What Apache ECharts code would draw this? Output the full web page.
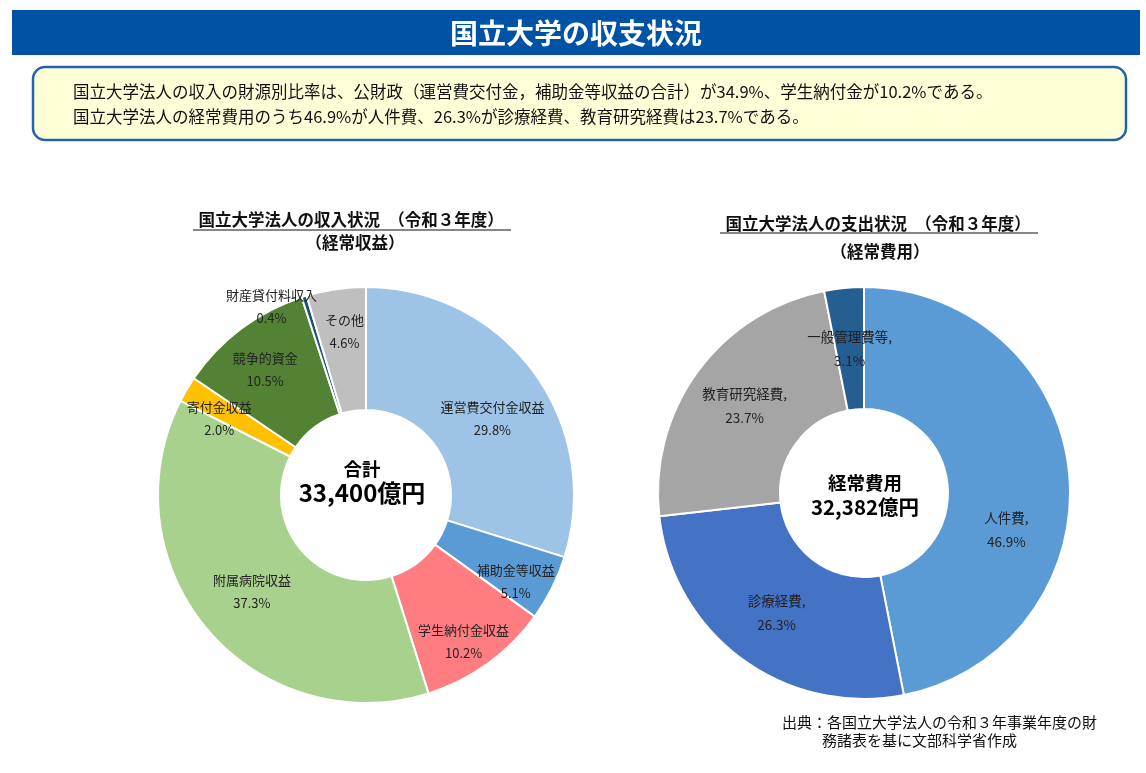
<!DOCTYPE html>
<html>
<head>
<meta charset="utf-8">
<script src="https://cdn.jsdelivr.net/npm/echarts@6/dist/echarts.min.js"></script>
<style>
  html, body { margin: 0; padding: 0; background: #fff; }
  #main { width: 1146px; height: 773px; }
</style>
</head>
<body>
<div id="main"></div>
<script>
// 収入（経常収益）
var incomeNames = ['運営費交付金収益', '補助金等収益', '学生納付金収益', '附属病院収益', '寄付金収益', '競争的資金', '財産貸付料収入', 'その他']
var incomeValues = [29.8, 5.1, 10.2, 37.3, 2.0, 10.5, 0.4, 4.6]
var incomeTotal = '33,400億円'

// 支出（経常費用）
var expenseNames = ['人件費', '診療経費', '教育研究経費', '一般管理費等']
var expenseValues = [46.9, 26.3, 23.7, 3.1]
var expenseTotal = '32,382億円'

var incomeColors = ['#9DC3E6', '#5B9BD5', '#FF7C80', '#A9D18E', '#FFC000', '#548235', '#1F4E79', '#BFBFBF']
var expenseColors = ['#5B9BD5', '#4472C4', '#A5A5A5', '#255E91']

// ラベル位置の微調整
var incomeLabelOffset = {
  '運営費交付金収益': [6, 12],
  '補助金等収益': [16, 20],
  '学生納付金収益': [10, 25],
  '寄付金収益': [-18, 0],
  '競争的資金': [-11, -6],
  '財産貸付料収入': [-50, -46],
  'その他': [0, -15]
}
var expenseLabelOffset = {
  '人件費': [-5, 51],
  '一般管理費等': [0, 3]
}

var FONT = '"Noto Sans CJK JP", "Noto Sans", sans-serif'

function buildData(names, values, colors, offsets) {
  return names.map(function (n, i) {
    var item = { name: n, value: values[i], itemStyle: { color: colors[i] } }
    if (offsets[n]) item.label = { offset: offsets[n] }
    return item
  })
}

var chart = echarts.init(document.getElementById('main'), null, { renderer: 'canvas' })

var option = {
  animation: false,
  graphic: [
    // タイトルバー
    { type: 'rect', shape: { x: 12, y: 10, width: 1128, height: 45 }, style: { fill: '#0053A4' } },
    { type: 'text', x: 576, y: 33, style: { text: '国立大学の収支状況', fill: '#fff', font: 'bold 28px ' + FONT, align: 'center', verticalAlign: 'middle' } },
    // 説明ボックス
    { type: 'rect', shape: { x: 33, y: 67, width: 1093, height: 73, r: 12 }, style: { fill: '#FFFFD7', stroke: '#2563A8', lineWidth: 2.5 } },
    { type: 'text', x: 73, y: 92, style: { text: '国立大学法人の収入の財源別比率は、公財政（運営費交付金，補助金等収益の合計）が34.9%、学生納付金が10.2%である。', fill: '#111', font: '16.5px ' + FONT, verticalAlign: 'middle' } },
    { type: 'text', x: 73, y: 117, style: { text: '国立大学法人の経常費用のうち46.9%が人件費、26.3%が診療経費、教育研究経費は23.7%である。', fill: '#111', font: '16.5px ' + FONT, verticalAlign: 'middle' } },
    // 左タイトル
    { type: 'text', x: 351, y: 220, style: { text: '国立大学法人の収入状況　（令和３年度）', fill: '#111', font: 'bold 16.5px ' + FONT, align: 'center', verticalAlign: 'middle' } },
    { type: 'line', shape: { x1: 193, y1: 230, x2: 511, y2: 230 }, style: { stroke: '#111', lineWidth: 1.2 } },
    { type: 'text', x: 355, y: 243, style: { text: '（経常収益）', fill: '#111', font: 'bold 16.5px ' + FONT, align: 'center', verticalAlign: 'middle' } },
    // 右タイトル
    { type: 'text', x: 878, y: 224, style: { text: '国立大学法人の支出状況　（令和３年度）', fill: '#111', font: 'bold 16.5px ' + FONT, align: 'center', verticalAlign: 'middle' } },
    { type: 'line', shape: { x1: 720, y1: 233, x2: 1038, y2: 233 }, style: { stroke: '#111', lineWidth: 1.2 } },
    { type: 'text', x: 880, y: 252, style: { text: '（経常費用）', fill: '#111', font: 'bold 16.5px ' + FONT, align: 'center', verticalAlign: 'middle' } },
    // 中央ラベル
    { type: 'text', x: 362, y: 469, z: 10, style: { text: '合計', fill: '#000', font: 'bold 18.5px ' + FONT, align: 'center', verticalAlign: 'middle' } },
    { type: 'text', x: 362, y: 493, z: 10, style: { text: incomeTotal, fill: '#000', font: 'bold 24px ' + FONT, align: 'center', verticalAlign: 'middle' } },
    { type: 'text', x: 865, y: 483, z: 10, style: { text: '経常費用', fill: '#000', font: 'bold 18.5px ' + FONT, align: 'center', verticalAlign: 'middle' } },
    { type: 'text', x: 865, y: 507, z: 10, style: { text: expenseTotal, fill: '#000', font: 'bold 20.5px ' + FONT, align: 'center', verticalAlign: 'middle' } },
    // 出典
    { type: 'text', x: 782, y: 722, style: { text: '出典：各国立大学法人の令和３年事業年度の財', fill: '#111', font: '15px ' + FONT, verticalAlign: 'middle' } },
    { type: 'text', x: 822, y: 740, style: { text: '務諸表を基に文部科学省作成', fill: '#111', font: '15px ' + FONT, verticalAlign: 'middle' } }
  ],
  series: [
    {
      name: '収入',
      type: 'pie',
      center: [366, 495],
      radius: [85, 208],
      startAngle: 90,
      clockwise: true,
      avoidLabelOverlap: false,
      itemStyle: { borderColor: '#fff', borderWidth: 2 },
      label: {
        show: true,
        position: 'inside',
        color: '#222',
        fontFamily: FONT,
        fontSize: 13,
        lineHeight: 23,
        formatter: function (p) { return p.name + '\n' + p.value.toFixed(1) + '%' }
      },
      labelLine: { show: false },
      emphasis: { disabled: true },
      data: buildData(incomeNames, incomeValues, incomeColors, incomeLabelOffset)
    },
    {
      name: '支出',
      type: 'pie',
      center: [864, 493],
      radius: [84, 206],
      startAngle: 90,
      clockwise: true,
      avoidLabelOverlap: false,
      itemStyle: { borderColor: '#fff', borderWidth: 2 },
      label: {
        show: true,
        position: 'inside',
        color: '#222',
        fontFamily: FONT,
        fontSize: 13.5,
        lineHeight: 24,
        formatter: function (p) { return p.name + ',\n' + p.value.toFixed(1) + '%' }
      },
      labelLine: { show: false },
      emphasis: { disabled: true },
      data: buildData(expenseNames, expenseValues, expenseColors, expenseLabelOffset)
    }
  ]
}

chart.setOption(option)
</script>
</body>
</html>
